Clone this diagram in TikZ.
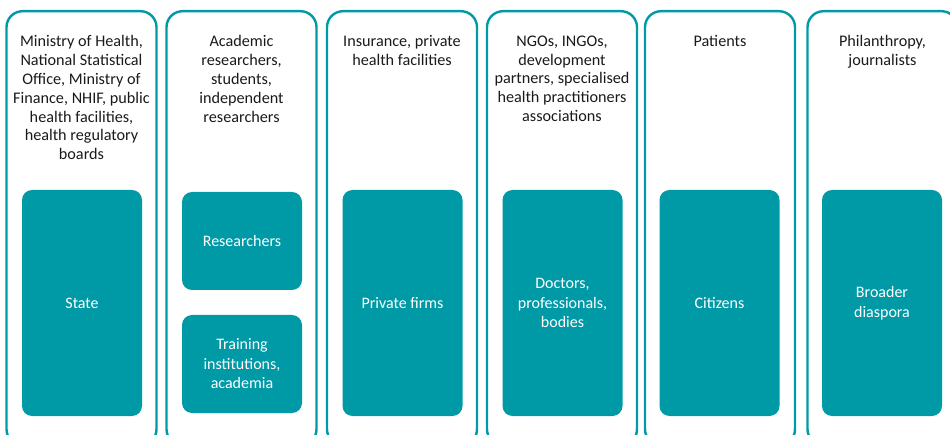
\documentclass[tikz,border=0pt]{standalone}
\usepackage{fontspec}
\setmainfont{Carlito}
\definecolor{grpteal}{HTML}{0099A6}
\definecolor{whotext}{HTML}{1A1A1A}
\begin{document}
\begin{tikzpicture}[x=1pt,y=-1pt,
    group/.style={draw=grpteal,line width=2.4pt,rounded corners=16pt,minimum width=150pt,minimum height=434pt,anchor=north,inner sep=0pt},
    who/.style={anchor=north,align=center,inner sep=0pt,text=whotext,font=\fontsize{16.2}{18.8}\selectfont},
    actor/.style={fill=grpteal,rounded corners=10pt,minimum width=120pt,inner sep=0pt,align=center,text=white,font=\fontsize{16}{19.5}\selectfont}]
    \useasboundingbox (0,0) rectangle (950,435);
    %% stakeholder groups
    \foreach \i/\x/\who in {1/81.5/{Ministry of Health,\\National Statistical\\Office, Ministry of\\Finance, NHIF, public\\health facilities,\\health regulatory\\boards},
            2/241.5/{Academic\\researchers,\\students,\\independent\\researchers},
            3/402/{Insurance, private\\health facilities},
            4/562/{NGOs, INGOs,\\development\\partners, specialised\\health practitioners\\associations},
            5/720/{Patients},
            6/882.5/{Philanthropy,\\journalists}} {
        \node[group] (grp\i) at (\x,10) {};
        \node[who] (who\i) at (\x,35.5) {\who};
    }
    %% actors
    \node[actor,minimum height=226pt] (state) at (82,303) {State};
    \node[actor,minimum height=98pt] (researchers) at (242,241) {Researchers};
    \node[actor,minimum height=98pt] (training) at (242,364) {Training\\institutions,\\academia};
    \node[actor,minimum height=226pt] (firms) at (402.5,303) {Private firms};
    \node[actor,minimum height=226pt] (doctors) at (562.5,303) {Doctors,\\professionals,\\bodies};
    \node[actor,minimum height=226pt] (citizens) at (719.5,303) {Citizens};
    \node[actor,minimum height=226pt] (diaspora) at (882,303) {Broader\\diaspora};
\end{tikzpicture}
\end{document}
